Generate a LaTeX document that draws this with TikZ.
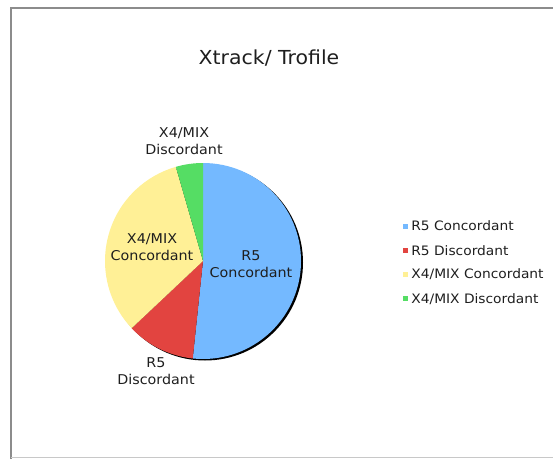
\documentclass[tikz,border=0pt]{standalone}
\usepackage{fontspec}
\setmainfont{DejaVu Sans}[FakeStretch=1.06]
\usetikzlibrary{positioning}

\definecolor{sliceblue}{RGB}{116,185,255}
\definecolor{slicered}{RGB}{226,68,64}
\definecolor{sliceyellow}{RGB}{255,240,150}
\definecolor{slicegreen}{RGB}{85,221,100}
\definecolor{framedark}{RGB}{140,140,140}
\definecolor{framelight}{RGB}{200,200,200}
\definecolor{textgray}{RGB}{30,30,30}

\begin{document}
\begin{tikzpicture}[x=1pt, y=1pt,
	pie label/.style={align=center, inner sep=0pt, text=textgray, font=\fontsize{13.5}{17}\selectfont},
	key box/.style={minimum size=5pt, inner sep=0pt},
	key text/.style={inner sep=0pt, anchor=west, text=textgray, font=\fontsize{13}{15}\selectfont}]
	
	\useasboundingbox (0,0) rectangle (553,459);
	
	% frame
	\draw [framedark, line width=2pt] (11,0) -- (11,451) -- (553,451);
	\draw [framelight, line width=1.5pt] (11,1.5) -- (553,1.5);
	
	\node [text=textgray, font=\fontsize{19.3}{23}\selectfont] (title) at (269,401) {Xtrack/ Trofile};
	
	% shadow, then the slices
	\fill [black] (205,196.5) circle (98);
	\foreach \a/\b/\c in {90/-96/sliceblue, -96/-136.7/slicered, -136.7/-253.9/sliceyellow, -253.9/-270/slicegreen}
	\fill [\c] (203,198) -- ++(\a:98) arc (\a:\b:98) -- cycle;
	
	\node [pie label] (lab-r5c) at (251,195) {R5\\Concordant};
	\node [pie label] (lab-r5d) at (156,88) {R5\\Discordant};
	\node [pie label] (lab-x4c) at (152,212) {X4/MIX\\Concordant};
	\node [pie label] (lab-x4d) at (184,318) {X4/MIX\\Discordant};
	
	% legend
	\foreach \c/\l [count=\y] in {sliceblue/{R5 Concordant}, slicered/{R5 Discordant}, sliceyellow/{X4/MIX Concordant}, slicegreen/{X4/MIX Discordant}}
	{
	\node [key box, fill=\c] (key-\y) at (405.5,257.3-\y*24.3) {};
	\node [key text, right=3pt of key-\y] (keytext-\y) {\l};
	}
\end{tikzpicture}
\end{document}
